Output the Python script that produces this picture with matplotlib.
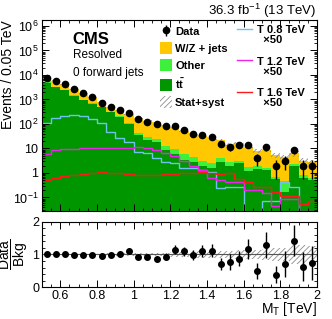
import numpy as np
import matplotlib
matplotlib.use('Agg')
import matplotlib.pyplot as plt
from matplotlib.patches import Patch
from matplotlib.lines import Line2D
from matplotlib.ticker import MultipleLocator, LogLocator, FuncFormatter, NullFormatter

plt.rcParams['font.family'] = ['Liberation Sans', 'DejaVu Sans']
plt.rcParams['mathtext.fontset'] = 'custom'
plt.rcParams['mathtext.rm'] = 'Liberation Sans'
plt.rcParams['mathtext.it'] = 'Liberation Sans:italic'
plt.rcParams['mathtext.bf'] = 'Liberation Sans:bold'
plt.rcParams['hatch.linewidth'] = 0.6

# M_T bins (TeV), 0.05 TeV wide
bin_lo, bin_hi, bin_w = 0.5, 2.0, 0.05

# observed events per bin
data = np.array([7400, 5900, 4200, 2600, 1800, 1230, 740, 500, 360, 275,
                 160, 123, 100, 83, 83, 58, 38, 35, 29, 15,
                 11, 14, 14, 4, 11, 2, 3, 9, 2, 2], dtype=float)

# stacked backgrounds
ttbar = np.array([4900, 3150, 2400, 1420, 930, 670, 490, 300, 193, 102,
                  35, 23, 19, 9, 6, 3.5, 2.8, 2.0, 1.6, 2.7,
                  2.0, 2.6, 1.2, 1.5, 1.3, 0.55, 0.16, 2.0, 0.6, 0.5])
other = np.array([150, 120, 90, 60, 45, 35, 25, 20, 15, 12,
                  8, 6, 5, 3.5, 3.5, 2.5, 1.5, 1.2, 0.9, 1.5,
                  0.8, 0.5, 0.5, 0.4, 0.3, 0.15, 0.3, 0.3, 0.2, 0.1])
wzjets = np.array([2350, 2630, 1710, 1173, 881, 550, 264, 190, 152, 131,
                   129, 103, 94, 76.5, 62.5, 47, 34.7, 28.8, 23.5, 17.2,
                   11.5, 13.0, 10.2, 6.1, 6.9, 4.6, 3.84, 4.0, 2.4, 2.1])

# relative stat+syst uncertainty on the total background
bkg_unc = np.array([0.03, 0.03, 0.03, 0.03, 0.03, 0.03, 0.035, 0.04, 0.04, 0.04,
                    0.05, 0.05, 0.06, 0.06, 0.08, 0.08, 0.10, 0.10, 0.12, 0.12,
                    0.12, 0.14, 0.14, 0.15, 0.17, 0.20, 0.20, 0.28, 0.28, 0.25])

# signals, already scaled x50
sig_t08 = np.array([110, 175, 210, 225, 220, 160, 110, 45, 26, 18,
                    7.5, 6.3, 4.0, 2.9, 2.5, 1.6, 1.6, 1.3, 1.1, 0.25,
                    0.26, 0.26, 0.02, 0.02, 0.07, 0.07, 0.42, 0.26, 0.02, 0.02])
sig_t12 = np.array([6, 8.5, 9.5, 9.8, 10, 10.2, 10.4, 10.6, 10.5, 10.8,
                    11.5, 10, 8.5, 6.5, 5, 3, 1.9, 1.3, 0.65, 0.52,
                    0.44, 0.42, 0.21, 0.2, 0.15, 0.045, 0.085, 0.085, 0.029, 0.029])
sig_t16 = np.array([0.5, 0.65, 0.75, 0.8, 0.88, 0.95, 1.1, 1.0, 0.95, 0.9,
                    0.85, 0.85, 0.85, 0.88, 0.9, 0.95, 1.0, 1.05, 1.0, 0.9,
                    0.95, 0.55, 0.42, 0.27, 0.27, 0.17, 0.11, 0.11, 0.055, 0.07])

edges = np.arange(bin_lo, bin_hi + bin_w / 2, bin_w)
centers = 0.5 * (edges[:-1] + edges[1:])

c_tt = ttbar
c_oth = ttbar + other
total = c_oth + wzjets

fig = plt.figure(figsize=(3.32, 3.19), dpi=100)
ax = fig.add_axes([0.1265, 0.3386, 0.828, 0.5987])
rx = fig.add_axes([0.1265, 0.1003, 0.828, 0.2038], sharex=ax)

# stack
ax.stairs(total, edges, baseline=1e-3, fill=True, color='#ffc800', lw=0)
ax.stairs(c_oth, edges, baseline=1e-3, fill=True, color='#3cf03c', lw=0)
ax.stairs(c_tt, edges, baseline=1e-3, fill=True, color='#009600', lw=0)
ax.stairs(total * (1 + bkg_unc), edges, baseline=total * (1 - bkg_unc), fill=True,
          facecolor='none', edgecolor='#8c8c8c', hatch='//////', lw=0)

# signals
ax.stairs(sig_t08, edges, baseline=None, color='#6ec3ee', lw=1.0)
ax.stairs(sig_t12, edges, baseline=None, color='#ee22ee', lw=1.0)
ax.stairs(sig_t16, edges, baseline=None, color='#ff1a1a', lw=1.0)

# data
derr = np.sqrt(data)
dlo = np.minimum(derr, data - 1e-3)
hdata = ax.errorbar(centers, data, yerr=[dlo, derr], fmt='o', color='k', ms=4.5,
                    elinewidth=1.0, capsize=0)

ax.set_yscale('log')
ax.set_xlim(bin_lo, bin_hi)
ax.set_ylim(0.028, 1.75e6)


def log_label(v, pos):
    e = int(round(np.log10(v)))
    if e == 0:
        return '1'
    if e == 1:
        return '10'
    return '$10^{%d}$' % e


ax.yaxis.set_major_locator(LogLocator(base=10, numticks=20))
ax.yaxis.set_minor_locator(LogLocator(base=10, subs=np.arange(2, 10), numticks=20))
ax.yaxis.set_major_formatter(FuncFormatter(log_label))
ax.yaxis.set_minor_formatter(NullFormatter())
ax.set_ylabel('Events / 0.05 TeV', fontsize=10, loc='top')
ax.yaxis.set_label_coords(-0.098, 1.0)

# ratio panel
ratio = data / total
rx.stairs(1 + bkg_unc, edges, baseline=1 - bkg_unc, fill=True,
          facecolor='none', edgecolor='#8c8c8c', hatch='//////', lw=0)
rx.axhline(1.0, color='#555555', lw=0.8)
rx.errorbar(centers, ratio, yerr=derr / total, fmt='o', color='k', ms=4,
            elinewidth=1.0, capsize=0)
rx.set_ylim(0, 2)
rx.yaxis.set_major_locator(MultipleLocator(1))
rx.yaxis.set_minor_locator(MultipleLocator(0.2))
rx.xaxis.set_major_locator(MultipleLocator(0.2))
rx.xaxis.set_minor_locator(MultipleLocator(0.05))
rx.xaxis.set_major_formatter(FuncFormatter(lambda v, p: '%g' % round(v, 2)))
rx.set_ylabel(r'$\dfrac{\mathrm{Data}}{\mathrm{Bkg}}$', fontsize=10)
rx.yaxis.set_label_coords(-0.042, 0.5)
rx.set_xlabel(r'M$_\mathrm{T}$ [TeV]', fontsize=10, loc='right', labelpad=-1)

for a in (ax, rx):
    a.tick_params(which='both', direction='in', top=True, right=True, labelsize=9, pad=2.5)
    a.tick_params(which='major', length=5, width=0.7)
    a.tick_params(which='minor', length=2.5, width=0.6)
    for s in a.spines.values():
        s.set_linewidth(0.8)
ax.tick_params(labelbottom=False)
rx.tick_params(axis='x', pad=2)
rx.tick_params(axis='y', pad=2)

# texts
fig.text(0.952, 0.966, r'36.3 fb$^{-1}$ (13 TeV)', ha='right', va='center', fontsize=9.5)
ax.text(0.109, 0.90, 'CMS', transform=ax.transAxes, fontsize=12, fontweight='bold',
        va='center', ha='left')
ax.text(0.113, 0.815, 'Resolved', transform=ax.transAxes, fontsize=8.5, va='center')
ax.text(0.113, 0.72, '0 forward jets', transform=ax.transAxes, fontsize=8.5, va='center')

# legend, left column
h1 = [hdata,
      Patch(facecolor='#ffc800', edgecolor='none'),
      Patch(facecolor='#3cf03c', edgecolor='none'),
      Patch(facecolor='#009600', edgecolor='none'),
      Patch(facecolor='none', edgecolor='#8c8c8c', hatch='//////', lw=0)]
lab1 = ['Data', 'W/Z + jets', 'Other', r'$\mathbf{t\bar{t}}$', 'Stat+syst']
leg1 = ax.legend(h1, lab1, loc='upper left', bbox_to_anchor=(0.43, 0.972),
                 frameon=False, borderpad=0, borderaxespad=0,
                 handlelength=1.08, handleheight=1.2, handletextpad=0.27,
                 labelspacing=0.5, prop={'size': 8, 'weight': 'bold'})
ax.add_artist(leg1)

# legend, signals
h2 = [Line2D([], [], color='#6ec3ee', lw=1.0),
      Line2D([], [], color='#ee22ee', lw=1.0),
      Line2D([], [], color='#ff1a1a', lw=1.0)]
lab2 = ['T 0.8 TeV\n  \u00d750', 'T 1.2 TeV\n  \u00d750', 'T 1.6 TeV\n  \u00d750']
leg2 = ax.legend(h2, lab2, loc='upper left', bbox_to_anchor=(0.709, 0.974),
                 frameon=False, borderpad=0, borderaxespad=0,
                 handlelength=1.35, handletextpad=0.5,
                 labelspacing=1.05, prop={'size': 8, 'weight': 'bold'})
for t in leg2.get_texts():
    t.set_linespacing(1.0)
for ln in leg2.get_lines():
    ln.set_ydata(np.asarray(ln.get_ydata()) + 4.5)

fig.savefig('out.png', dpi=100)
